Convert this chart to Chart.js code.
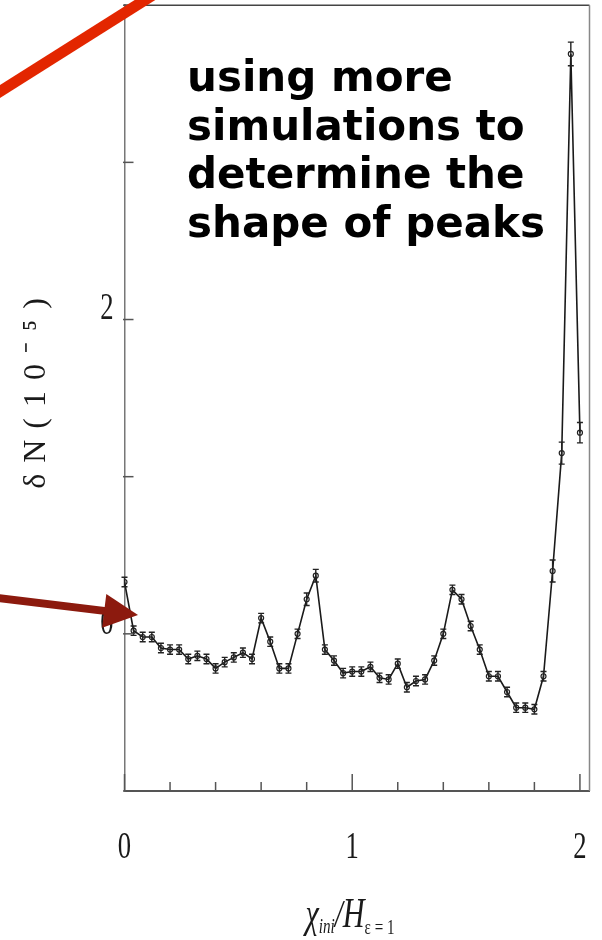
<!DOCTYPE html>
<html>
<head>
<meta charset="utf-8">
<style>
  html, body { margin: 0; padding: 0; background: #fff; }
  #wrap { width: 602px; height: 940px; }
</style>
</head>
<body>
<div id="wrap"><canvas id="peaks"></canvas></div>
<script src="https://cdn.jsdelivr.net/npm/chart.js@4.4.1/dist/chart.umd.min.js"></script>
<script>
//setup
const chiValues = [
	0, 0.04, 0.08, 0.12, 0.16, 0.2, 0.24, 0.28, 0.32, 0.36,
	0.4, 0.44, 0.48, 0.52, 0.56, 0.6, 0.64, 0.68, 0.72, 0.76,
	0.8, 0.84, 0.88, 0.92, 0.96, 1.0, 1.04, 1.08, 1.12, 1.16,
	1.2, 1.24, 1.28, 1.32, 1.36, 1.4, 1.44, 1.48, 1.52, 1.56,
	1.6, 1.64, 1.68, 1.72, 1.76, 1.8, 1.84, 1.88, 1.92, 1.96,
	2.0,
];
const dNValues = [
	0.33, 0.02, -0.02, -0.02, -0.09, -0.1, -0.1, -0.16, -0.14, -0.16,
	-0.22, -0.18, -0.15, -0.12, -0.16, 0.1, -0.05, -0.22, -0.22, 0.0,
	0.22, 0.37, -0.1, -0.17, -0.25, -0.24, -0.24, -0.21, -0.28, -0.29,
	-0.19, -0.34, -0.3, -0.29, -0.17, 0.0, 0.28, 0.22, 0.05, -0.1,
	-0.27, -0.27, -0.37, -0.47, -0.47, -0.48, -0.27, 0.4, 1.15, 3.69,
	1.28,
];
const dNErrors = [
	0.03, 0.03, 0.03, 0.03, 0.03, 0.03, 0.03, 0.03, 0.03, 0.03,
	0.03, 0.03, 0.03, 0.03, 0.03, 0.03, 0.03, 0.03, 0.03, 0.03,
	0.04, 0.04, 0.03, 0.03, 0.03, 0.03, 0.03, 0.03, 0.03, 0.03,
	0.03, 0.03, 0.03, 0.03, 0.03, 0.03, 0.03, 0.03, 0.03, 0.03,
	0.03, 0.03, 0.03, 0.03, 0.03, 0.03, 0.03, 0.07, 0.07, 0.075,
	0.065,
];
const xTickLabels = ["0", "1", "2"];
const yTickLabels = ["0", "2"];
const noteLines = ["using more", "simulations to", "determine the", "shape of peaks"];

const data = {
	datasets: [
		{
			data: chiValues.map((x, i) => ({ x: x, y: dNValues[i] })),
			borderColor: "#1a1a1a",
			borderWidth: 1.6,
			tension: 0,
			pointRadius: 2.5,
			pointStyle: "circle",
			pointBackgroundColor: "rgba(255,255,255,0)",
			pointBorderColor: "#222",
			pointBorderWidth: 1.2,
		},
	],
};

//squeezed serif text, like the figure's condensed Times
const drawNarrow = (ctx, text, x, y, sx) => {
	ctx.save();
	ctx.translate(x, y);
	ctx.scale(sx, 1);
	ctx.fillText(text, 0, 0);
	ctx.restore();
};

//error bars
const errorBars = {
	id: "errorBars",
	afterDatasetsDraw(chart) {
		const {
			ctx,
			scales: { x, y },
		} = chart;
		ctx.save();
		ctx.strokeStyle = "#222";
		ctx.lineWidth = 1.4;
		chiValues.forEach((chi, i) => {
			const px = x.getPixelForValue(chi);
			const top = y.getPixelForValue(dNValues[i] + dNErrors[i]);
			const bot = y.getPixelForValue(dNValues[i] - dNErrors[i]);
			ctx.beginPath();
			ctx.moveTo(px, top);
			ctx.lineTo(px, bot);
			ctx.moveTo(px - 3, top);
			ctx.lineTo(px + 3, top);
			ctx.moveTo(px - 3, bot);
			ctx.lineTo(px + 3, bot);
			ctx.stroke();
		});
		ctx.restore();
	},
};

//frame, inward ticks, tick labels, axis titles
const frame = {
	id: "frame",
	afterDraw(chart) {
		const {
			ctx,
			chartArea: { top, right, bottom, left },
			scales: { x, y },
		} = chart;
		ctx.save();

		ctx.strokeStyle = "#444";
		ctx.lineWidth = 1.5;
		ctx.beginPath();
		ctx.moveTo(left, top);
		ctx.lineTo(right, top);
		ctx.stroke();
		ctx.strokeStyle = "#888";
		ctx.beginPath();
		ctx.moveTo(right, top);
		ctx.lineTo(right, bottom);
		ctx.stroke();

		ctx.strokeStyle = "#555";
		ctx.lineWidth = 1.5;
		x.ticks.forEach((t) => {
			const px = x.getPixelForValue(t.value);
			const major = Math.abs(t.value - Math.round(t.value)) < 1e-6;
			ctx.beginPath();
			ctx.moveTo(px, bottom);
			ctx.lineTo(px, bottom - (major ? 17 : 9));
			ctx.stroke();
		});
		y.ticks.forEach((t) => {
			const py = y.getPixelForValue(t.value);
			ctx.beginPath();
			ctx.moveTo(left - 1.5, py);
			ctx.lineTo(left + 9, py);
			ctx.stroke();
		});

		ctx.fillStyle = "#1a1a1a";
		ctx.font = "37px 'Liberation Serif'";
		ctx.textAlign = "center";
		ctx.textBaseline = "middle";
		x.ticks.forEach((t) => {
			const label = String(Math.round(t.value * 100) / 100);
			if (xTickLabels.includes(label)) {
				drawNarrow(ctx, label, x.getPixelForValue(t.value), bottom + 57, 0.72);
			}
		});
		y.ticks.forEach((t) => {
			const label = String(t.value);
			if (yTickLabels.includes(label)) {
				drawNarrow(ctx, label, 107, y.getPixelForValue(t.value) - 10, 0.72);
			}
		});

		//x title: chi_ini / H_(eps=1)
		const parts = [
			{ t: "χ", f: "italic 42px 'Liberation Serif'", dy: 0 },
			{ t: "ini", f: "italic 21px 'Liberation Serif'", dy: 6 },
			{ t: "/", f: "italic 40px 'Liberation Serif'", dy: 0 },
			{ t: "H", f: "italic 42px 'Liberation Serif'", dy: 0 },
			{ t: "ε = 1", f: "21px 'Liberation Serif'", dy: 7 },
		];
		const sx = 0.72;
		let total = 0;
		parts.forEach((p) => {
			ctx.font = p.f;
			p.w = ctx.measureText(p.t).width;
			total += p.w;
		});
		ctx.textAlign = "left";
		ctx.textBaseline = "alphabetic";
		let cx = 350 - (total * sx) / 2;
		parts.forEach((p) => {
			ctx.font = p.f;
			drawNarrow(ctx, p.t, cx, 927 + p.dy, sx);
			cx += p.w * sx;
		});

		//y title
		ctx.save();
		ctx.translate(37, 393);
		ctx.rotate(-Math.PI / 2);
		ctx.font = "32px 'Liberation Serif'";
		ctx.letterSpacing = "11px";
		ctx.textAlign = "center";
		ctx.textBaseline = "middle";
		ctx.fillText("δN(10⁻⁵)", 5, 0);
		ctx.restore();

		ctx.restore();
	},
};

//note text and the two pointers
const notes = {
	id: "notes",
	afterDraw(chart) {
		const { ctx } = chart;
		ctx.save();
		ctx.fillStyle = "#000";
		ctx.font = "bold 42px 'DejaVu Sans'";
		ctx.textAlign = "left";
		ctx.textBaseline = "alphabetic";
		const baselines = [91, 140, 188, 237];
		noteLines.forEach((line, i) => ctx.fillText(line, 187, baselines[i]));

		//red pointer off the top
		ctx.strokeStyle = "#e32600";
		ctx.lineWidth = 11;
		ctx.beginPath();
		ctx.moveTo(-20, 104);
		ctx.lineTo(168, -14.5);
		ctx.stroke();

		//dark red arrow at the first point
		const tip = { x: 138, y: 615 };
		const tail = { x: -10, y: 597 };
		const dx = tip.x - tail.x;
		const dy = tip.y - tail.y;
		const len = Math.hypot(dx, dy);
		const ux = dx / len;
		const uy = dy / len;
		const headLen = 34;
		const headHalf = 17;
		const bx = tip.x - ux * headLen;
		const by = tip.y - uy * headLen;
		ctx.strokeStyle = "#8c1a0e";
		ctx.fillStyle = "#8c1a0e";
		ctx.lineWidth = 8;
		ctx.beginPath();
		ctx.moveTo(tail.x, tail.y);
		ctx.lineTo(bx + ux * 2, by + uy * 2);
		ctx.stroke();
		ctx.beginPath();
		ctx.moveTo(tip.x, tip.y);
		ctx.lineTo(bx - uy * headHalf, by + ux * headHalf);
		ctx.lineTo(bx + uy * headHalf, by - ux * headHalf);
		ctx.closePath();
		ctx.fill();
		ctx.restore();
	},
};

//config
const config = {
	type: "line",
	data,
	options: {
		responsive: true,
		maintainAspectRatio: false,
		animation: false,
		layout: {
			padding: { top: 4, right: 12.5, left: 0, bottom: 0 },
		},
		scales: {
			x: {
				type: "linear",
				min: 0,
				max: 2.042,
				ticks: { stepSize: 0.2, includeBounds: false, display: false },
				grid: { display: false },
				border: { display: true, color: "#555", width: 2 },
				afterFit: (scale) => {
					scale.height = 149;
				},
			},
			y: {
				min: -1,
				max: 4,
				ticks: { stepSize: 1, includeBounds: false, display: false },
				grid: { display: false },
				border: { display: true, color: "#777", width: 1.5 },
				afterFit: (scale) => {
					scale.width = 124.5;
				},
			},
		},
		plugins: {
			legend: { display: false },
			tooltip: { enabled: false },
		},
	},
	plugins: [errorBars, frame, notes],
};

//render init
const peaksChart = new Chart(document.getElementById("peaks"), config);
</script>
</body>
</html>
